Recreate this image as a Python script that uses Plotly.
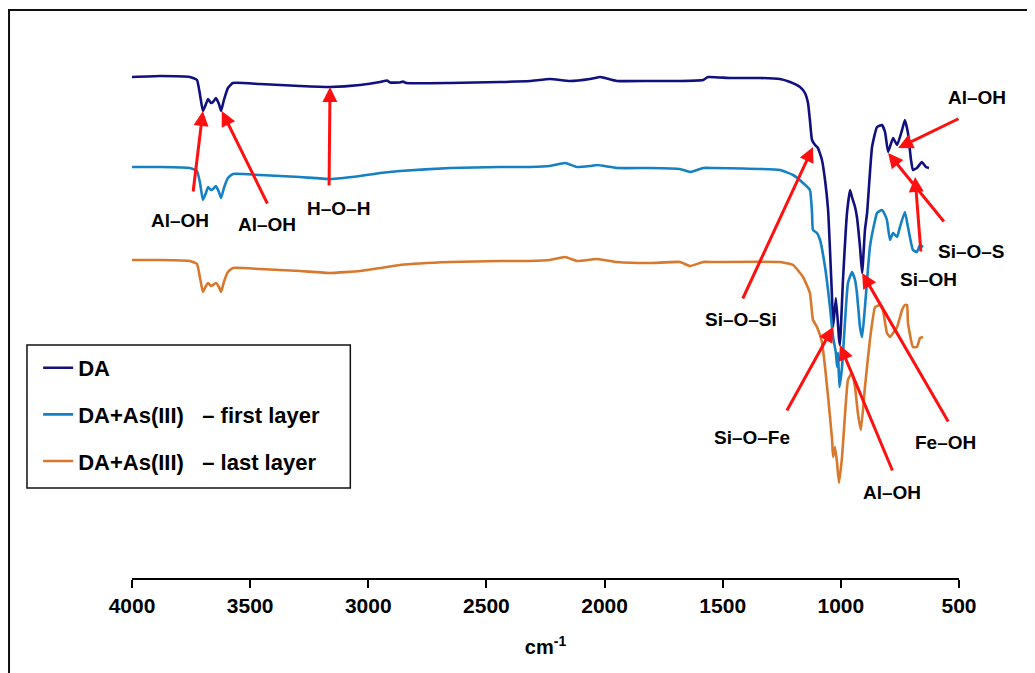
import plotly.graph_objects as go

# ---------------- data (wavenumber cm-1, transmittance a.u.) ----------------
da_wn = [4000, 3881, 3755, 3725, 3712, 3700, 3687, 3678, 3666, 3657, 3645, 3632, 3623, 3611, 3594, 3573,
         3458, 3289, 3162, 3035, 2950, 2921, 2908, 2866, 2853, 2840, 2654, 2443, 2316, 2231, 2146, 2062,
         2019, 1998, 1947, 1808, 1681, 1583, 1562, 1469, 1342, 1258, 1215, 1173, 1152, 1139, 1131, 1122,
         1109, 1097, 1080, 1067, 1054, 1046, 1037, 1033, 1021, 1008, 1004, 991, 974, 961, 953, 940, 932,
         919, 910, 898, 889, 868, 847, 826, 813, 800, 779, 762, 741, 729, 716, 703, 695, 678, 657, 640, 627]
da_val = [501, 502, 501, 498, 483, 467, 474, 479, 475, 476, 480, 474, 467, 478, 490, 495,
          494, 492, 491, 493, 496, 497.5, 495.5, 495.5, 496.5, 495, 495, 496, 497, 499, 497, 499,
          501, 500, 497, 497, 497, 498, 501, 500, 500, 499, 496, 491, 485, 475, 458, 438,
          433, 430, 418, 398, 368, 328, 278, 251, 280, 240, 233, 298, 365, 388, 381, 371, 361,
          331, 305, 348, 365, 431, 451, 453, 446, 426, 440, 433, 448, 458, 445, 418, 408, 410, 416, 411, 410]

first_wn = [4000, 3881, 3755, 3725, 3712, 3700, 3687, 3678, 3666, 3657, 3645, 3632, 3623, 3611, 3594, 3573,
            3458, 3289, 3162, 3035, 2950, 2866, 2654, 2443, 2316, 2231, 2167, 2117, 2062, 2032, 1947, 1808,
            1681, 1638, 1583, 1541, 1258, 1202, 1160, 1131, 1122, 1118, 1101, 1088, 1067, 1046, 1033, 1021,
            1016, 1012, 1006, 995, 982, 970, 953, 940, 932, 919, 910, 898, 877, 855, 847, 826, 813, 805,
            792, 779, 762, 750, 729, 716, 695, 678, 665, 652]
first_val = [411, 411, 410, 407, 395, 378, 385, 391, 388, 389, 392, 386, 380, 390, 400, 404,
             403, 401, 399, 402, 405, 407, 410, 411, 411, 412, 415, 411, 412, 413, 410, 410,
             409, 406, 410, 410, 408, 403, 395, 388, 365, 348, 345, 338, 311, 271, 241, 225,
             211, 225, 191, 211, 258, 295, 306, 298, 285, 251, 241, 271, 331, 358, 365, 368, 363, 358,
             338, 345, 341, 351, 366, 351, 328, 326, 333, 331]

last_wn = [4000, 3881, 3755, 3725, 3712, 3700, 3687, 3678, 3666, 3657, 3645, 3632, 3623, 3611, 3594, 3573,
           3458, 3289, 3162, 3035, 2950, 2866, 2654, 2443, 2316, 2231, 2167, 2117, 2032, 1947, 1808, 1681,
           1638, 1583, 1541, 1258, 1202, 1160, 1131, 1118, 1101, 1080, 1067, 1054, 1037, 1033, 1025, 1016,
           1008, 995, 982, 970, 953, 940, 928, 915, 898, 877, 855, 834, 822, 805, 792, 779, 762, 741,
           729, 720, 716, 695, 678, 665, 652]
last_val = [318, 318, 317, 314, 300, 286, 292, 295, 292, 293, 295, 291, 286, 296, 306, 310,
            309, 307, 305, 307, 310, 313, 316, 317, 317, 318, 321, 317, 319, 316, 315, 316,
            312, 316, 316, 316, 313, 301, 285, 258, 251, 236, 211, 181, 138, 121, 131, 115,
            95, 121, 165, 198, 205, 191, 165, 148, 191, 238, 271, 273, 268, 245, 241, 245, 251, 268,
            273, 273, 255, 231, 231, 240, 241]

series_names = ["DA", "DA+As(III)\u00a0\u00a0\u00a0\u2013 first layer", "DA+As(III)\u00a0\u00a0\u00a0\u2013 last layer"]
series_colors = ["#10107f", "#1580c4", "#d8782c"]

x_ticks = [4000, 3500, 3000, 2500, 2000, 1500, 1000, 500]
X_RANGE = [4000, 500]
Y_RANGE = [0, 558]

# band assignments: label, text position, arrow tail, arrow head
ann_labels = ["Al\u2013OH", "Al\u2013OH", "H\u2013O\u2013H", "Si\u2013O\u2013Si", "Si\u2013O\u2013Fe",
              "Al\u2013OH", "Fe\u2013OH", "Si\u2013OH", "Si\u2013O\u2013S", "Al\u2013OH"]
ann_text_wn = [3797, 3429, 3124, 1423, 1376, 784, 559, 631, 445, 424]
ann_text_val = [358, 354, 370, 259, 141, 86, 136, 299, 327, 481]
ann_tail_wn = [3742, 3424, 3166, 1418, 1232, 779, 542, 661, 559, 496]
ann_tail_val = [385, 373, 391, 278, 166, 106, 155, 325, 355, 460]
ann_head_wn = [3700, 3620, 3162, 1118, 1033, 1004, 910, 686, 800, 758]
ann_head_val = [467, 467, 491, 431, 251, 233, 305, 401, 425, 430]

FONT = "Liberation Sans, Arial, sans-serif"


def wn_to_paper(w):
    return (X_RANGE[0] - w) / (X_RANGE[0] - X_RANGE[1])


fig = go.Figure()
for name, wn, val, col in zip(series_names, [da_wn, first_wn, last_wn],
                              [da_val, first_val, last_val], series_colors):
    fig.add_trace(go.Scatter(x=wn, y=val, mode="lines", name=name, legendgroup=name,
                             line=dict(color=col, width=2.6, shape="spline", smoothing=0.4)))

# arrows
for hx, hy, tx, ty in zip(ann_head_wn, ann_head_val, ann_tail_wn, ann_tail_val):
    fig.add_annotation(x=hx, y=hy, ax=tx, ay=ty, xref="x", yref="y", axref="x", ayref="y",
                       text="", showarrow=True, arrowhead=2, arrowsize=1.0, arrowwidth=3,
                       arrowcolor="#ff1010")

# labels
for lab, tw, tv in zip(ann_labels, ann_text_wn, ann_text_val):
    fig.add_annotation(x=wn_to_paper(tw), y=tv, xref="paper", yref="y", text=lab,
                       showarrow=False, xanchor="center", yanchor="middle",
                       font=dict(family=FONT, size=19, color="black", weight="bold"))

# outer frame
fig.add_shape(type="rect", xref="paper", yref="paper", x0=-0.1487, x1=1.12, y0=1.018, y1=-0.25,
              line=dict(color="#111", width=2), fillcolor="rgba(0,0,0,0)", layer="below")
# legend frame
fig.add_shape(type="rect", xref="paper", yref="paper", x0=-0.127, x1=0.264, y0=0.4176, y1=0.1613,
              line=dict(color="#111", width=1.5), fillcolor="white", layer="below")

fig.update_layout(
    width=1035, height=673, autosize=False,
    margin=dict(l=124, r=84, t=12, b=103),
    paper_bgcolor="white", plot_bgcolor="rgba(0,0,0,0)",
    font=dict(family=FONT, color="black"),
    xaxis=dict(range=X_RANGE, tickvals=x_ticks, ticktext=[str(t) for t in x_ticks],
               showline=True, linecolor="black", linewidth=2, ticks="outside", ticklen=8,
               tickwidth=2, tickcolor="black", showgrid=False, zeroline=False,
               tickfont=dict(family=FONT, size=21, color="black", weight="bold"),
               title=dict(text="cm<sup>-1</sup>", standoff=24,
                          font=dict(family=FONT, size=20, color="black", weight="bold"))),
    yaxis=dict(range=Y_RANGE, visible=False, showgrid=False, zeroline=False),
    legend=dict(x=-0.1135, y=0.414, xanchor="left", yanchor="top",
                borderwidth=0, bgcolor="rgba(0,0,0,0)",
                font=dict(family=FONT, size=22, color="black", weight="bold"),
                tracegroupgap=15, traceorder="grouped"),
    showlegend=True,
)

fig.write_html("out.html")
